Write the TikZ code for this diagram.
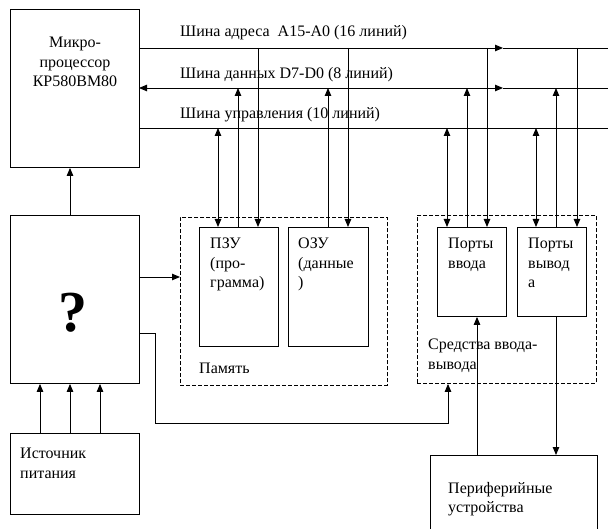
\documentclass[tikz,border=0pt]{standalone}
\usepackage{fontspec}
\setmainfont{Liberation Serif}
\usetikzlibrary{arrows.meta,positioning}

\begin{document}
\begin{tikzpicture}[x=1pt,y=-1pt,
  box/.style={draw, line width=0.9pt, inner sep=0pt, anchor=north west},
  group/.style={draw, line width=0.9pt, dash pattern=on 4pt off 2pt, inner sep=0pt, anchor=north west},
  txt/.style={inner sep=0pt, anchor=north west, align=left, font=\fontsize{16}{19.5}\selectfont},
  line/.style={line width=0.9pt},
  arr/.style={line width=0.9pt, -{Triangle[length=8pt,width=6.5pt]}},
  darr/.style={line width=0.9pt, {Triangle[length=8pt,width=6.5pt]}-{Triangle[length=8pt,width=6.5pt]}}
]
  \useasboundingbox (0,0) rectangle (608,529);

  % Blocks
  \node[box, minimum width=129pt, minimum height=158pt] (mp) at (10,9) {};
  \node[box, minimum width=129pt, minimum height=168pt] (unk) at (10,215) {};
  \node[box, minimum width=129pt, minimum height=81pt] (pwr) at (10,433) {};
  \node[group, minimum width=207pt, minimum height=168pt] (mem) at (180,217) {};
  \node[box, minimum width=79pt, minimum height=119pt] (rom) at (199,227) {};
  \node[box, minimum width=80pt, minimum height=119pt] (ram) at (288,227) {};
  \node[group, minimum width=179pt, minimum height=168pt] (io) at (417,215) {};
  \node[box, minimum width=69pt, minimum height=89pt] (inp) at (437,227) {};
  \node[box, minimum width=69pt, minimum height=89pt] (outp) at (517,227) {};
  \node[box, minimum width=167pt, minimum height=90pt] (per) at (430,455) {};

  % Texts
  \node[txt, anchor=north, align=center] (mptext) at (75,37) {Микро-\\процессор\\КР580ВМ80};
  \node[font=\fontsize{58}{58}\selectfont\bfseries, inner sep=0pt] (unktext) at (73,313) {?};
  \node[txt] (pwrtext) at (20,448) {Источник\\питания};
  \node[txt] (romtext) at (210,238) {ПЗУ\\(про-\\грамма)};
  \node[txt] (ramtext) at (298,238) {ОЗУ\\(данные\\)};
  \node[txt] (memtext) at (199,363) {Память};
  \node[txt] (inptext) at (448,238) {Порты\\ввода};
  \node[txt] (outptext) at (528,238) {Порты\\вывод\\а};
  \node[txt] (iotext) at (428,339) {Средства ввода-\\вывода};
  \node[txt] (pertext) at (448,482) {Периферийные\\устройства};
  \node[txt] (abustext) at (180,25) {Шина адреса\ \ А15-А0 (16 линий)};
  \node[txt] (dbustext) at (180,67) {Шина данных D7-D0 (8 линий)};
  \node[txt] (cbustext) at (180,107) {Шина управления (10 линий)};

  % Buses
  \coordinate (abus) at (139,48);
  \coordinate (dbus) at (139,88);
  \coordinate (cbus) at (139,128);
  \coordinate (abusmid) at (503,48);
  \coordinate (dbusmid) at (503,88);
  \draw[arr] (abus) -- (abusmid);
  \draw[line] (abusmid) -- (608,48);
  \draw[darr] (dbus) -- (dbusmid);
  \draw[line] (dbusmid) -- (608,88);
  \draw[line] (cbus) -- (608,128);

  % Memory to buses
  \draw[darr] ([xshift=19pt]rom.north west |- cbus) -- ([xshift=19pt]rom.north west);
  \draw[arr] ([xshift=39pt]rom.north west) -- ([xshift=39pt]rom.north west |- dbus);
  \draw[arr] ([xshift=59pt]rom.north west |- abus) -- ([xshift=59pt]rom.north west);
  \draw[arr] ([xshift=40pt]ram.north west) -- ([xshift=40pt]ram.north west |- dbus);
  \draw[arr] ([xshift=60pt]ram.north west |- abus) -- ([xshift=60pt]ram.north west);

  % Ports to buses
  \draw[darr] ([xshift=10pt]inp.north west |- cbus) -- ([xshift=10pt]inp.north west);
  \draw[arr] ([xshift=30pt]inp.north west) -- ([xshift=30pt]inp.north west |- dbus);
  \draw[arr] ([xshift=50pt]inp.north west |- abus) -- ([xshift=50pt]inp.north west);
  \draw[darr] ([xshift=19pt]outp.north west |- cbus) -- ([xshift=19pt]outp.north west);
  \draw[arr] ([xshift=39pt]outp.north west) -- ([xshift=39pt]outp.north west |- dbus);
  \draw[arr] ([xshift=60pt]outp.north west |- abus) -- ([xshift=60pt]outp.north west);

  % Other links
  \draw[arr] (unk.north -| 70,0) -- (mp.south -| 70,0);
  \draw[arr] (unk.east |- 0,277) -- (mem.west |- 0,277);
  \coordinate (bend) at (155,423);
  \draw[arr] (unk.east |- 0,333) -| (bend) -| ([xshift=31pt]io.south west);
  \foreach \dx in {30,60,90}
    \draw[arr] ([xshift=\dx pt]pwr.north west) -- ([xshift=\dx pt]unk.south west);
  \draw[arr] (per.north -| 477,0) -- (inp.south -| 477,0);
  \draw[arr] (outp.south -| 556,0) -- (per.north -| 556,0);
\end{tikzpicture}
\end{document}
